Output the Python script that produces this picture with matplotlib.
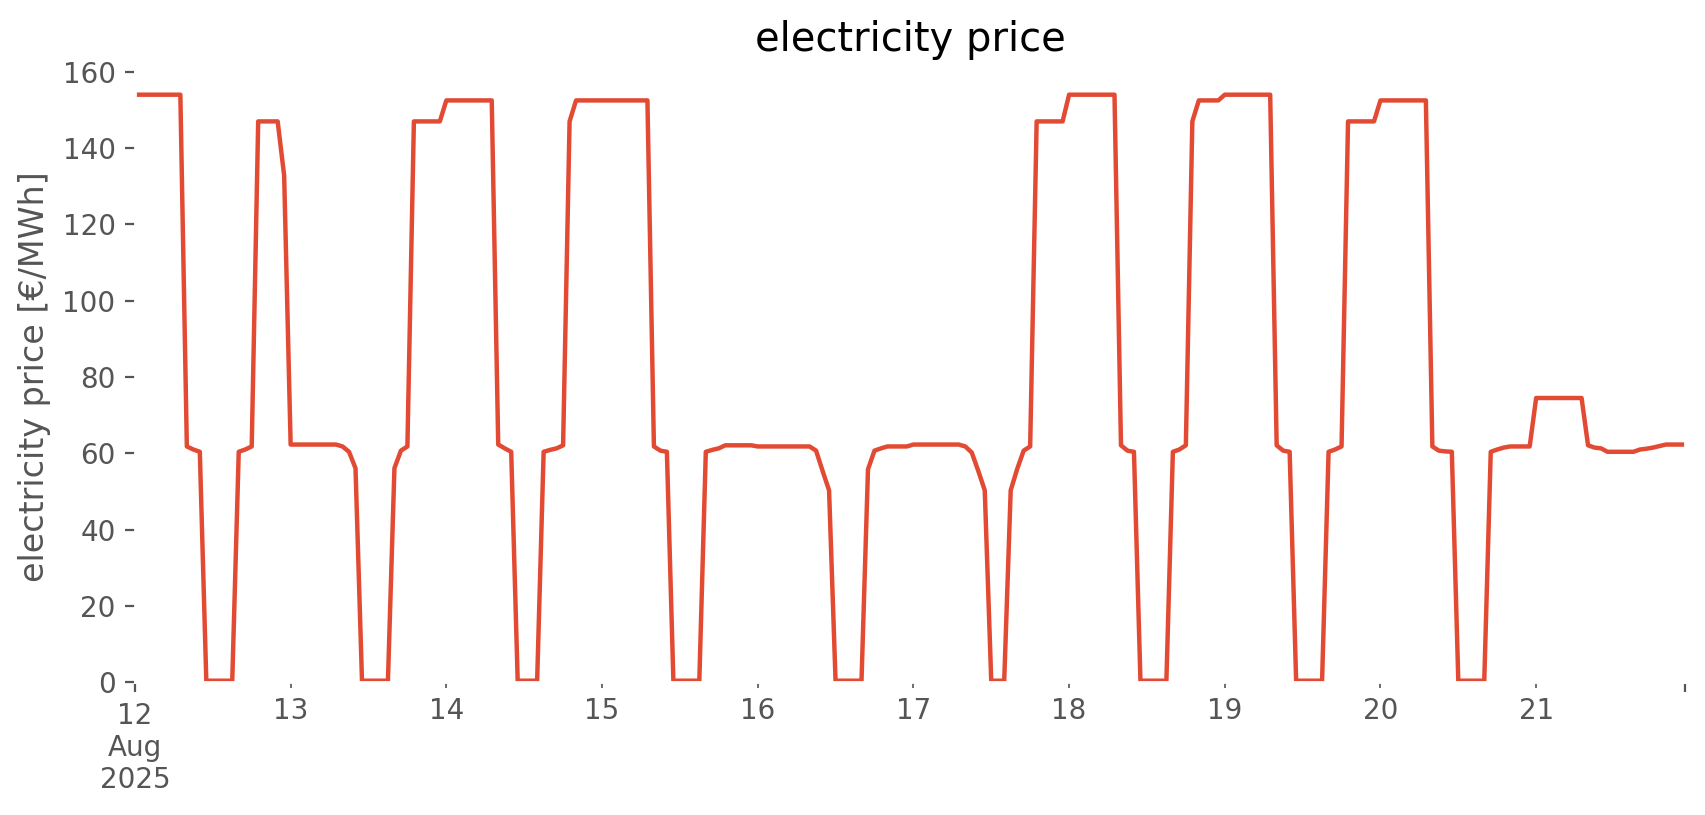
#!/usr/bin/env python3
"""
Hourly electricity price, 12-21 Aug 2025
"""

import numpy as np
import pandas as pd
import matplotlib
matplotlib.use('Agg')
import matplotlib.pyplot as plt

START = '2025-08-12 00:00'
LINE_COLOR = '#E24A33'

# hourly prices in EUR/MWh, one list per day (hours 0..23)
aug12 = [154, 154, 154, 154, 154, 154, 154, 154, 61.8, 61.0, 60.4, 0.4,
         0.4, 0.4, 0.4, 0.4, 60.4, 61.0, 61.8, 147, 147, 147, 147, 132.8]
aug13 = [62.3, 62.3, 62.3, 62.3, 62.3, 62.3, 62.3, 62.3, 61.8, 60.4, 56.1, 0.4,
         0.4, 0.4, 0.4, 0.4, 56.1, 60.7, 61.8, 147, 147, 147, 147, 147]
aug14 = [152.5, 152.5, 152.5, 152.5, 152.5, 152.5, 152.5, 152.5, 62.3, 61.3, 60.4, 0.4,
         0.4, 0.4, 0.4, 60.4, 60.9, 61.3, 62.1, 147, 152.5, 152.5, 152.5, 152.5]
aug15 = [152.5, 152.5, 152.5, 152.5, 152.5, 152.5, 152.5, 152.5, 61.8, 60.7, 60.4, 0.4,
         0.4, 0.4, 0.4, 0.4, 60.4, 60.9, 61.3, 62.1, 62.1, 62.1, 62.1, 62.1]
aug16 = [61.8, 61.8, 61.8, 61.8, 61.8, 61.8, 61.8, 61.8, 61.8, 60.7, 55.4, 50.3,
         0.4, 0.4, 0.4, 0.4, 0.4, 55.8, 60.7, 61.3, 61.8, 61.8, 61.8, 61.8]
aug17 = [62.3, 62.3, 62.3, 62.3, 62.3, 62.3, 62.3, 62.3, 61.8, 60.2, 55.4, 50.3,
         0.4, 0.4, 0.4, 50.3, 55.9, 60.7, 61.8, 147, 147, 147, 147, 147]
aug18 = [154, 154, 154, 154, 154, 154, 154, 154, 62.1, 60.7, 60.4, 0.4,
         0.4, 0.4, 0.4, 0.4, 60.4, 61.0, 62.1, 147, 152.5, 152.5, 152.5, 152.5]
aug19 = [154, 154, 154, 154, 154, 154, 154, 154, 62.1, 60.7, 60.4, 0.4,
         0.4, 0.4, 0.4, 0.4, 60.4, 61.0, 61.8, 147, 147, 147, 147, 147]
aug20 = [152.5, 152.5, 152.5, 152.5, 152.5, 152.5, 152.5, 152.5, 61.8, 60.7, 60.5, 60.4,
         0.4, 0.4, 0.4, 0.4, 0.4, 60.4, 61.0, 61.5, 61.8, 61.8, 61.8, 61.8]
aug21 = [74.5, 74.5, 74.5, 74.5, 74.5, 74.5, 74.5, 74.5, 62.1, 61.5, 61.3, 60.4,
         60.4, 60.4, 60.4, 60.4, 61.0, 61.2, 61.5, 61.9, 62.3, 62.3, 62.3, 62.3]


def main():
    prices = build_series()
    create_plot(prices)


def build_series():
    values = np.concatenate([aug12, aug13, aug14, aug15, aug16,
                             aug17, aug18, aug19, aug20, aug21])
    index = pd.date_range(START, periods=len(values), freq='h')
    return pd.Series(values, index=index)


def create_plot(prices):
    plt.style.use('ggplot')

    fig = plt.figure(figsize=(8.53, 4.075), dpi=200)
    ax = fig.add_axes([0.0791, 0.1629, 0.9088, 0.749])
    ax.set_facecolor('white')

    prices.plot(ax=ax, color=LINE_COLOR, linewidth=1.6)

    ax.set_ylim(0, 160)
    ax.set_ylabel('electricity price [€/MWh]')
    ax.set_title('electricity price', pad=7.5)

    fig.savefig('out.png', dpi=200, facecolor='white')


if __name__ == '__main__':
    main()
